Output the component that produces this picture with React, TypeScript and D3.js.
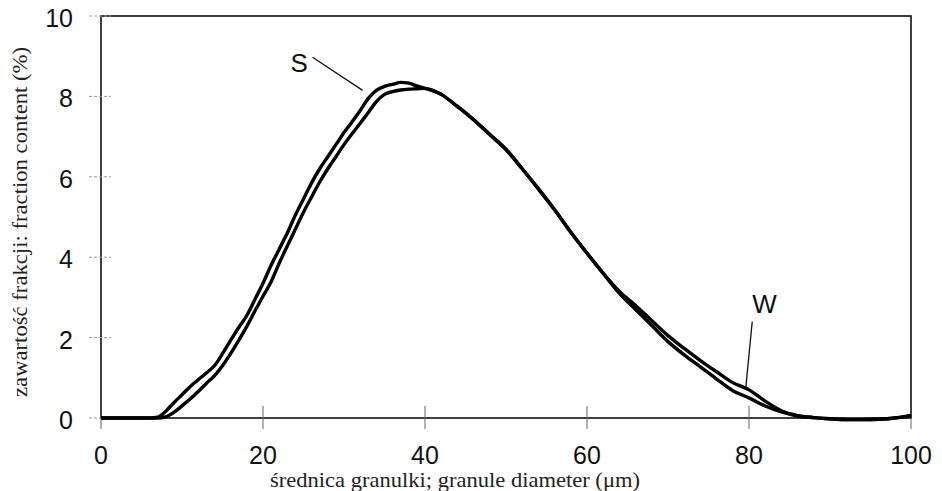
import * as d3 from 'd3';
import { useRef, useEffect } from 'react';

// granule diameter (um) sample points
const diam = [0, 2, 4, 6, 7, 8, 9, 10, 11, 12, 13, 14, 15, 16, 17, 18, 19, 20, 21, 22, 23, 24, 25, 26, 27, 28, 29, 30, 31, 32, 33, 34, 35, 36, 37, 38, 39, 40, 42, 44, 46, 48, 50, 52, 54, 56, 58, 60, 62, 64, 66, 68, 70, 72, 74, 76, 78, 80, 82, 84, 86, 88, 90, 92, 94, 96, 98, 100];

// fraction content (%) - series S
const seriesS = [0, 0, 0, 0, 0.02, 0.17, 0.38, 0.58, 0.78, 0.95, 1.12, 1.3, 1.6, 1.93, 2.25, 2.55, 2.95, 3.35, 3.8, 4.2, 4.6, 5.05, 5.45, 5.85, 6.2, 6.5, 6.8, 7.1, 7.37, 7.65, 7.95, 8.15, 8.25, 8.3, 8.35, 8.33, 8.26, 8.2, 8.05, 7.75, 7.42, 7.05, 6.68, 6.2, 5.7, 5.18, 4.62, 4.1, 3.6, 3.1, 2.7, 2.3, 1.9, 1.57, 1.27, 0.97, 0.68, 0.5, 0.3, 0.15, 0.05, 0.01, -0.02, -0.04, -0.04, -0.03, 0, 0.06];

// fraction content (%) - series W
const seriesW = [0, 0, 0, 0, 0, 0.03, 0.14, 0.3, 0.47, 0.66, 0.86, 1.05, 1.3, 1.6, 1.93, 2.28, 2.66, 3.03, 3.39, 3.85, 4.28, 4.7, 5.12, 5.5, 5.87, 6.2, 6.5, 6.8, 7.07, 7.33, 7.6, 7.87, 8.05, 8.12, 8.16, 8.18, 8.19, 8.2, 8.05, 7.75, 7.42, 7.05, 6.68, 6.2, 5.7, 5.18, 4.62, 4.1, 3.6, 3.15, 2.8, 2.42, 2.05, 1.73, 1.43, 1.15, 0.88, 0.7, 0.42, 0.18, 0.06, 0.01, -0.02, -0.04, -0.04, -0.03, 0, 0.06];

const xTicks = [0, 20, 40, 60, 80, 100];
const yTicks = [0, 2, 4, 6, 8, 10];

// curve labels (data units) and where their leader lines end
const labelS = { name: 'S', x: 23.4, y: 8.6, tx: 32.3, ty: 8.15 };
const labelW = { name: 'W', x: 80.4, y: 2.6, tx: 79.6, ty: 0.75 };

function App() {
  const svgRef = useRef();
  const width = 942;
  const height = 491;

  useEffect(() => {
    const svg = d3.select(svgRef.current);
    svg.selectAll('*').remove();

    const xScale = d3.scaleLinear().domain([0, 100]).range([101, 911]);
    const yScale = d3.scaleLinear().domain([0, 10]).range([418, 16]);

    // frame
    svg
      .append('rect')
      .attr('x', xScale(0))
      .attr('y', yScale(10))
      .attr('width', xScale(100) - xScale(0))
      .attr('height', yScale(0) - yScale(10))
      .attr('fill', 'none')
      .attr('stroke', '#111')
      .attr('stroke-width', 1.6);

    // x ticks
    svg
      .append('g')
      .selectAll('line')
      .data(xTicks)
      .join('line')
      .attr('x1', (d) => xScale(d))
      .attr('x2', (d) => xScale(d))
      .attr('y1', (d) => (d === 0 || d === 100 ? yScale(0) : yScale(0) - 12))
      .attr('y2', yScale(0) + 11)
      .attr('stroke', '#666')
      .attr('stroke-width', 1);

    // y ticks
    svg
      .append('g')
      .selectAll('line')
      .data(yTicks)
      .join('line')
      .attr('x1', xScale(0) - 12)
      .attr('x2', xScale(0) + 10)
      .attr('y1', (d) => yScale(d))
      .attr('y2', (d) => yScale(d))
      .attr('stroke', '#999')
      .attr('stroke-width', 1)
      .attr('stroke-dasharray', '3,2');

    // tick labels
    svg
      .append('g')
      .selectAll('text')
      .data(xTicks)
      .join('text')
      .attr('x', (d) => xScale(d))
      .attr('y', 464)
      .attr('text-anchor', 'middle')
      .attr('font-family', 'Liberation Sans, Arial, sans-serif')
      .attr('font-size', 25)
      .attr('fill', '#111')
      .text((d) => d);

    svg
      .append('g')
      .selectAll('text')
      .data(yTicks)
      .join('text')
      .attr('x', 73)
      .attr('y', (d) => yScale(d) + 11)
      .attr('text-anchor', 'end')
      .attr('font-family', 'Liberation Sans, Arial, sans-serif')
      .attr('font-size', 25)
      .attr('fill', '#111')
      .text((d) => d);

    // axis titles
    svg
      .append('text')
      .attr('x', 455)
      .attr('y', 487)
      .attr('text-anchor', 'middle')
      .attr('font-family', 'Liberation Serif, Times New Roman, serif')
      .attr('font-size', 21)
      .attr('textLength', 370)
      .attr('lengthAdjust', 'spacingAndGlyphs')
      .attr('fill', '#222')
      .text('średnica granulki; granule diameter (μm)');

    svg
      .append('text')
      .attr('transform', 'translate(27, 222) rotate(-90)')
      .attr('text-anchor', 'middle')
      .attr('font-family', 'Liberation Serif, Times New Roman, serif')
      .attr('font-size', 21)
      .attr('textLength', 350)
      .attr('lengthAdjust', 'spacingAndGlyphs')
      .attr('fill', '#222')
      .text('zawartość frakcji: fraction content (%)');

    // curves
    const line = d3
      .line()
      .curve(d3.curveMonotoneX)
      .x((d) => xScale(d[0]))
      .y((d) => yScale(d[1]));

    [seriesS, seriesW].forEach((vals) => {
      svg
        .append('path')
        .datum(diam.map((x, i) => [x, vals[i]]))
        .attr('d', line)
        .attr('fill', 'none')
        .attr('stroke', '#000')
        .attr('stroke-width', 3.4)
        .attr('stroke-linejoin', 'round');
    });

    // curve labels with leader lines
    [labelS, labelW].forEach((l) => {
      svg
        .append('text')
        .attr('x', xScale(l.x))
        .attr('y', yScale(l.y))
        .attr('font-family', 'Liberation Sans, Arial, sans-serif')
        .attr('font-size', 26)
        .attr('fill', '#111')
        .text(l.name);
    });
    svg
      .append('line')
      .attr('x1', xScale(labelS.x) + 22)
      .attr('y1', yScale(labelS.y) - 15)
      .attr('x2', xScale(labelS.tx))
      .attr('y2', yScale(labelS.ty))
      .attr('stroke', '#111')
      .attr('stroke-width', 1.3);
    svg
      .append('line')
      .attr('x1', xScale(labelW.x))
      .attr('y1', yScale(labelW.y) + 8)
      .attr('x2', xScale(labelW.tx))
      .attr('y2', yScale(labelW.ty))
      .attr('stroke', '#111')
      .attr('stroke-width', 1.3);
  }, []);

  return (
    <svg
      ref={svgRef}
      width={width}
      height={height}
      style={{ position: 'absolute', left: 0, top: 0, background: '#fff' }}
    />
  );
}

export default App;
